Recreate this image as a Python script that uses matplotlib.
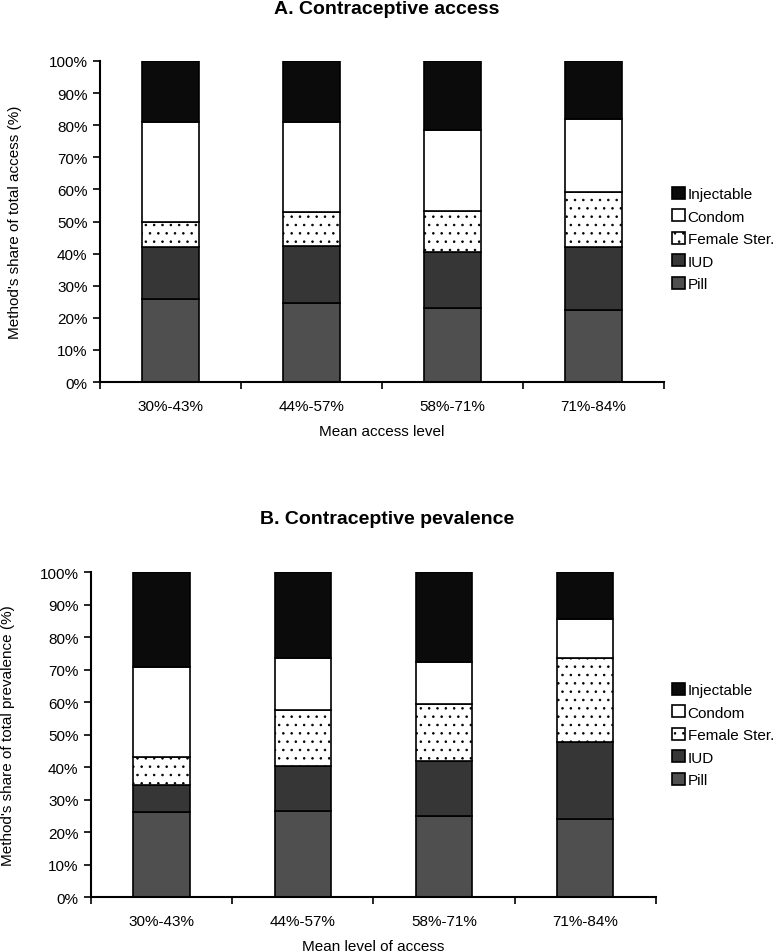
import numpy as np
import matplotlib
matplotlib.use("Agg")
import matplotlib.pyplot as plt
from matplotlib.ticker import FuncFormatter

plt.rcParams['font.family'] = ['Liberation Sans', 'DejaVu Sans']
plt.rcParams['hatch.linewidth'] = 0.6

groups = ['30%-43%', '44%-57%', '58%-71%', '71%-84%']
methods = ['Pill', 'IUD', 'Female Ster.', 'Condom', 'Injectable']

# panel A: share of total access (%)
access_pill = [26.0, 24.5, 23.1, 22.6]
access_iud = [16.1, 17.9, 17.4, 19.6]
access_fster = [7.6, 10.7, 12.8, 17.1]
access_condom = [31.4, 27.8, 25.3, 22.6]
access_inject = [18.9, 19.1, 21.4, 18.1]

# panel B: share of total prevalence (%)
prev_pill = [26.3, 26.4, 24.8, 24.0]
prev_iud = [8.3, 13.8, 17.2, 23.6]
prev_fster = [8.6, 17.5, 17.4, 26.0]
prev_condom = [27.7, 15.8, 13.0, 11.8]
prev_inject = [29.1, 26.5, 27.6, 14.6]

colors = ['#4f4f4f', '#363636', 'white', 'white', '#0b0b0b']
hatches = [None, None, '..', None, None]


def panel(ax, series, xlabel, ylabel):
    x = np.arange(len(groups))
    bottom = np.zeros(len(groups))
    handles = []
    for vals, lab, col, h in zip(series, methods, colors, hatches):
        b = ax.bar(x, vals, 0.4, bottom=bottom, color=col, edgecolor='black',
                   linewidth=1.2, hatch=h, label=lab)
        handles.append(b)
        bottom += np.array(vals)
    ax.set_xlim(-0.5, 3.5)
    ax.set_ylim(0, 100)
    ax.set_yticks(np.arange(0, 101, 10))
    ax.yaxis.set_major_formatter(FuncFormatter(lambda v, p: '%d%%' % v))
    ax.set_xticks(np.arange(-0.5, 4, 1))
    ax.set_xticklabels([])
    ax.set_xticks(x, minor=True)
    ax.set_xticklabels(groups, minor=True)
    ax.tick_params(axis='x', which='minor', length=0, pad=12, labelsize=11)
    ax.tick_params(axis='x', which='major', length=5, width=1.2)
    ax.tick_params(axis='y', length=5, width=1.2, labelsize=11, pad=4)
    for s in ['top', 'right']:
        ax.spines[s].set_visible(False)
    for s in ['left', 'bottom']:
        ax.spines[s].set_linewidth(1.5)
    ax.set_xlabel(xlabel, fontsize=11)
    ax.xaxis.set_label_coords(0.5, -0.13)
    ax.set_ylabel(ylabel, fontsize=11)
    return handles


fig = plt.figure(figsize=(7.8, 9.53), dpi=100)

ax1 = fig.add_axes([0.1282, 0.598, 0.723, 0.337])
h1 = panel(ax1, [access_pill, access_iud, access_fster, access_condom, access_inject],
           'Mean access level', "Method's share of total access (%)")
ax1.yaxis.set_label_coords(-0.138, 0.5)
fig.text(0.496, 1 - 9.5 / 953, 'A. Contraceptive access', ha='center', va='center',
         fontsize=14, fontweight='bold')
fig.legend(h1[::-1], methods[::-1], loc='center left', bbox_to_anchor=(0.862, 1 - 240 / 953),
           frameon=False, fontsize=11, handlelength=0.8, handleheight=0.8,
           handletextpad=0.2, labelspacing=0.55, borderaxespad=0, borderpad=0)

ax2 = fig.add_axes([0.1167, 0.0577, 0.724, 0.341])
h2 = panel(ax2, [prev_pill, prev_iud, prev_fster, prev_condom, prev_inject],
           'Mean level of access', "Method's share of total prevalence (%)")
ax2.yaxis.set_label_coords(-0.135, 0.5)
fig.text(0.496, 1 - 519 / 953, 'B. Contraceptive pevalence', ha='center', va='center',
         fontsize=14, fontweight='bold')
fig.legend(h2[::-1], methods[::-1], loc='center left', bbox_to_anchor=(0.862, 1 - 736 / 953),
           frameon=False, fontsize=11, handlelength=0.8, handleheight=0.8,
           handletextpad=0.2, labelspacing=0.55, borderaxespad=0, borderpad=0)

fig.savefig('out.png', dpi=100)
